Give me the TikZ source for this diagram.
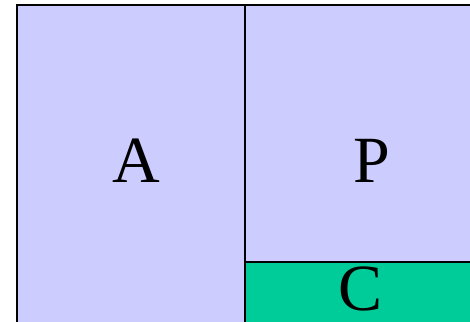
\documentclass[tikz,border=0pt]{standalone}
\usepackage{fontspec}
\setmainfont{Liberation Serif}
\usepackage{tikz}
\definecolor{lavender}{HTML}{CCCCFF}
\definecolor{seagreen}{HTML}{00CC99}

\begin{document}
\begin{tikzpicture}[x=1pt, y=-1pt, line width=1.5pt, line join=miter,
    lettertext/.style={anchor=base, inner sep=0pt, font=\fontsize{66}{70}\selectfont}]
    \useasboundingbox (0,0) rectangle (470,321);
    \clip (0,0) rectangle (470,321);

    % Regions (fills with borders, running past the right and bottom edge)
    \filldraw[fill=lavender, draw=black] (17,5) rectangle (245,340);
    \filldraw[fill=lavender, draw=black] (245,5) rectangle (490,262);
    \filldraw[fill=seagreen, draw=black] (245,262) rectangle (490,340);

    % Labels
    \node[lettertext] (A) at (136,182) {A};
    \node[lettertext] (P) at (372,182) {P};
    \node[lettertext] (C) at (361,310) {C};
\end{tikzpicture}
\end{document}
